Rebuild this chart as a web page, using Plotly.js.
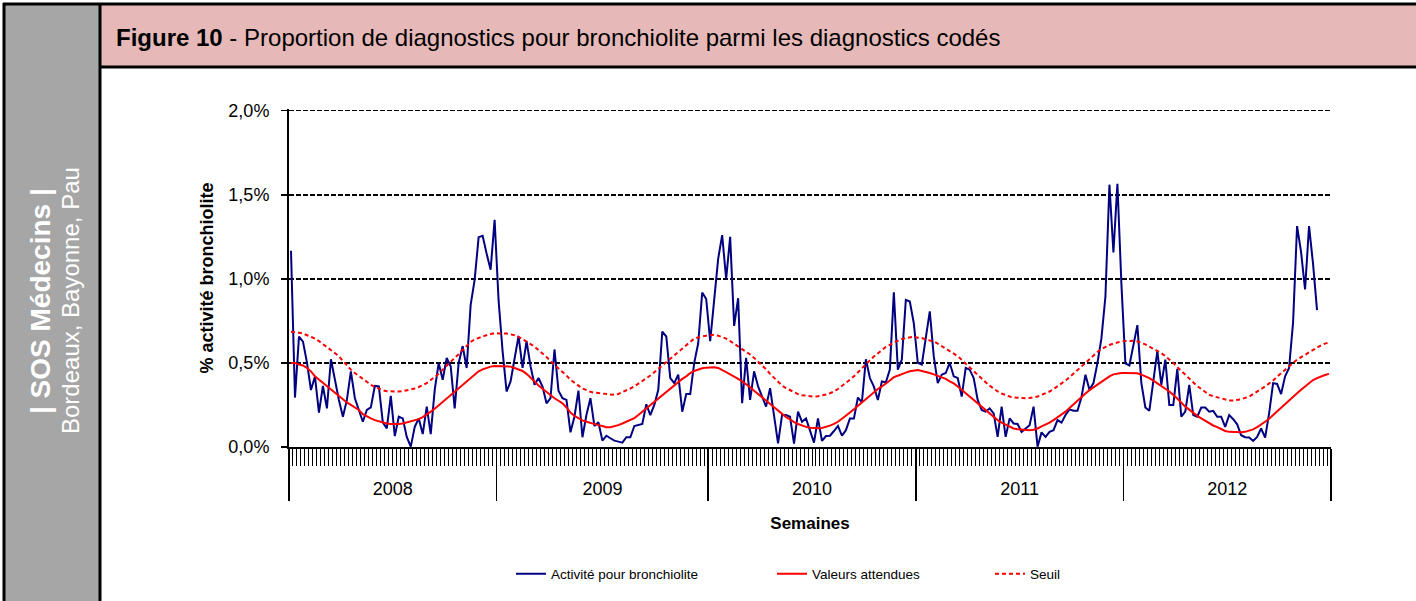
<!DOCTYPE html>
<html>
<head>
<meta charset="utf-8">
<script src="https://cdn.plot.ly/plotly-3.0.1.min.js"></script>
<style>
html,body{margin:0;padding:0;background:#fff;}
#chart{width:1416px;height:601px;}
</style>
</head>
<body>
<div id="chart"></div>
<script>
// ---- Categories / tick labels ----
const years = ['2008', '2009', '2010', '2011', '2012'];
const weeksPerYear = [52, 53, 52, 52, 52];
const yTickVals = [0, 0.5, 1, 1.5, 2];
const yTickText = ['0,0%', '0,5%', '1,0%', '1,5%', '2,0%'];

// ---- Activité pour bronchiolite (% of coded diagnostics), weekly ----
const act2008 = [1.167, 0.294, 0.657, 0.627, 0.502, 0.339, 0.419, 0.204, 0.363, 0.230,
  0.522, 0.40, 0.28, 0.18, 0.28, 0.45, 0.29, 0.22, 0.15, 0.22,
  0.236, 0.363, 0.36, 0.147, 0.111, 0.304, 0.065, 0.18, 0.17, 0.06,
  0.002, 0.12, 0.17, 0.077, 0.24, 0.077, 0.34, 0.50, 0.40, 0.53,
  0.48, 0.23, 0.50, 0.60, 0.47, 0.845, 0.994, 1.248, 1.256, 1.15,
  1.054, 1.351];
const act2009 = [0.87, 0.57, 0.33, 0.39, 0.52, 0.66, 0.47, 0.63, 0.48, 0.37,
  0.41, 0.36, 0.26, 0.29, 0.58, 0.335, 0.29, 0.28, 0.087, 0.18,
  0.335, 0.058, 0.19, 0.29, 0.125, 0.147, 0.038, 0.067, 0.052, 0.038,
  0.032, 0.026, 0.058, 0.058, 0.125, 0.129, 0.137, 0.254, 0.19, 0.25,
  0.34, 0.686, 0.657, 0.41, 0.38, 0.43, 0.21, 0.315, 0.315, 0.50,
  0.617, 0.919, 0.88];
const act2010 = [0.63, 0.90, 1.12, 1.26, 1.0, 1.25, 0.72, 0.885, 0.26, 0.53,
  0.28, 0.45, 0.36, 0.30, 0.24, 0.35, 0.19, 0.022, 0.19, 0.19,
  0.18, 0.02, 0.21, 0.15, 0.17, 0.10, 0.026, 0.17, 0.036, 0.065,
  0.067, 0.095, 0.125, 0.067, 0.10, 0.17, 0.17, 0.294, 0.266, 0.522,
  0.41, 0.359, 0.28, 0.39, 0.385, 0.46, 0.92, 0.46, 0.52, 0.875,
  0.865, 0.736];
const act2011 = [0.50, 0.49, 0.66, 0.806, 0.54, 0.38, 0.43, 0.44, 0.50, 0.42,
  0.41, 0.30, 0.47, 0.46, 0.41, 0.28, 0.22, 0.21, 0.23, 0.20,
  0.06, 0.24, 0.06, 0.17, 0.14, 0.137, 0.09, 0.11, 0.13, 0.24,
  0.002, 0.087, 0.06, 0.09, 0.10, 0.16, 0.145, 0.19, 0.224, 0.216,
  0.216, 0.296, 0.43, 0.34, 0.38, 0.50, 0.647, 0.895, 1.56, 1.157,
  1.565, 0.97];
const act2012 = [0.497, 0.485, 0.60, 0.725, 0.38, 0.235, 0.215, 0.40, 0.57, 0.37,
  0.52, 0.25, 0.25, 0.465, 0.18, 0.21, 0.37, 0.19, 0.18, 0.235,
  0.235, 0.21, 0.215, 0.18, 0.18, 0.12, 0.19, 0.165, 0.135, 0.07,
  0.058, 0.056, 0.036, 0.06, 0.11, 0.056, 0.20, 0.38, 0.375, 0.315,
  0.42, 0.47, 0.74, 1.314, 1.16, 0.937, 1.314, 1.09, 0.814];

// ---- Valeurs attendues ----
const att2008 = [0.50, 0.50, 0.49, 0.485, 0.47, 0.45, 0.42, 0.40, 0.38, 0.36,
  0.34, 0.32, 0.30, 0.285, 0.265, 0.25, 0.235, 0.22, 0.195, 0.18,
  0.17, 0.16, 0.152, 0.146, 0.14, 0.137, 0.136, 0.137, 0.14, 0.147,
  0.152, 0.157, 0.166, 0.178, 0.192, 0.21, 0.228, 0.248, 0.268, 0.29,
  0.31, 0.33, 0.35, 0.37, 0.392, 0.41, 0.43, 0.45, 0.462, 0.472,
  0.478, 0.482];
const att2009 = [0.482, 0.482, 0.48, 0.478, 0.47, 0.462, 0.452, 0.435, 0.415, 0.39,
  0.365, 0.345, 0.325, 0.305, 0.29, 0.275, 0.26, 0.235, 0.205, 0.185,
  0.17, 0.158, 0.15, 0.142, 0.135, 0.13, 0.125, 0.118, 0.117, 0.122,
  0.13, 0.14, 0.15, 0.16, 0.172, 0.19, 0.21, 0.23, 0.245, 0.265,
  0.29, 0.305, 0.325, 0.345, 0.37, 0.39, 0.405, 0.42, 0.44, 0.452,
  0.462, 0.468, 0.472];
const att2010 = [0.474, 0.474, 0.47, 0.455, 0.445, 0.432, 0.42, 0.405, 0.39, 0.375,
  0.355, 0.335, 0.315, 0.295, 0.275, 0.255, 0.235, 0.215, 0.195, 0.178,
  0.165, 0.148, 0.137, 0.128, 0.12, 0.115, 0.112, 0.111, 0.113, 0.118,
  0.127, 0.137, 0.15, 0.168, 0.185, 0.205, 0.225, 0.245, 0.27, 0.29,
  0.31, 0.328, 0.345, 0.36, 0.375, 0.395, 0.415, 0.425, 0.435, 0.442,
  0.45, 0.456];
const att2011 = [0.458, 0.452, 0.447, 0.44, 0.432, 0.424, 0.414, 0.405, 0.39, 0.378,
  0.36, 0.34, 0.32, 0.30, 0.28, 0.258, 0.235, 0.215, 0.195, 0.175,
  0.16, 0.145, 0.132, 0.12, 0.11, 0.105, 0.102, 0.10, 0.10, 0.103,
  0.11, 0.122, 0.132, 0.145, 0.16, 0.175, 0.192, 0.21, 0.232, 0.255,
  0.275, 0.298, 0.318, 0.338, 0.355, 0.372, 0.39, 0.405, 0.42, 0.432,
  0.438, 0.44];
const att2012 = [0.44, 0.44, 0.44, 0.438, 0.43, 0.42, 0.41, 0.395, 0.38, 0.365,
  0.35, 0.33, 0.31, 0.29, 0.265, 0.24, 0.22, 0.20, 0.185, 0.17,
  0.155, 0.14, 0.128, 0.118, 0.105, 0.095, 0.09, 0.088, 0.087, 0.088,
  0.09, 0.097, 0.105, 0.118, 0.132, 0.15, 0.168, 0.19, 0.21, 0.235,
  0.26, 0.28, 0.30, 0.32, 0.34, 0.36, 0.38, 0.398, 0.41, 0.42,
  0.428, 0.435];

// ---- Seuil ----
const seuil2008 = [0.686, 0.684, 0.68, 0.675, 0.665, 0.657, 0.645, 0.63, 0.612, 0.595,
  0.58, 0.56, 0.54, 0.512, 0.485, 0.46, 0.44, 0.422, 0.405, 0.385,
  0.37, 0.358, 0.345, 0.337, 0.332, 0.33, 0.33, 0.33, 0.332, 0.336,
  0.34, 0.348, 0.357, 0.367, 0.38, 0.398, 0.415, 0.435, 0.46, 0.485,
  0.508, 0.53, 0.552, 0.575, 0.6, 0.625, 0.64, 0.65, 0.657, 0.665,
  0.672, 0.677];
const seuil2009 = [0.675, 0.677, 0.675, 0.67, 0.665, 0.655, 0.642, 0.628, 0.612, 0.597,
  0.578, 0.558, 0.535, 0.51, 0.49, 0.467, 0.445, 0.425, 0.40, 0.38,
  0.365, 0.348, 0.337, 0.328, 0.323, 0.32, 0.317, 0.315, 0.312, 0.31,
  0.315, 0.325, 0.335, 0.348, 0.36, 0.375, 0.39, 0.405, 0.425, 0.445,
  0.465, 0.49, 0.51, 0.53, 0.55, 0.57, 0.59, 0.607, 0.625, 0.645,
  0.652, 0.658, 0.662];
const seuil2010 = [0.665, 0.667, 0.662, 0.655, 0.645, 0.63, 0.615, 0.60, 0.585, 0.57,
  0.55, 0.53, 0.508, 0.485, 0.462, 0.435, 0.41, 0.39, 0.365, 0.35,
  0.337, 0.325, 0.315, 0.308, 0.304, 0.302, 0.30, 0.302, 0.306, 0.312,
  0.32, 0.33, 0.345, 0.362, 0.38, 0.40, 0.42, 0.445, 0.47, 0.49,
  0.515, 0.538, 0.558, 0.578, 0.595, 0.608, 0.622, 0.632, 0.642, 0.648,
  0.652, 0.657];
const seuil2011 = [0.65, 0.648, 0.64, 0.635, 0.627, 0.615, 0.60, 0.59, 0.575, 0.56,
  0.54, 0.518, 0.495, 0.472, 0.45, 0.43, 0.405, 0.385, 0.365, 0.345,
  0.33, 0.318, 0.308, 0.30, 0.295, 0.292, 0.29, 0.29, 0.291, 0.294,
  0.30, 0.31, 0.318, 0.33, 0.345, 0.36, 0.378, 0.395, 0.415, 0.435,
  0.455, 0.478, 0.50, 0.522, 0.545, 0.565, 0.582, 0.597, 0.607, 0.615,
  0.622, 0.628];
const seuil2012 = [0.63, 0.633, 0.632, 0.628, 0.62, 0.61, 0.597, 0.585, 0.568, 0.558,
  0.54, 0.522, 0.50, 0.475, 0.452, 0.43, 0.405, 0.385, 0.362, 0.345,
  0.33, 0.31, 0.302, 0.295, 0.29, 0.282, 0.277, 0.276, 0.278, 0.284,
  0.292, 0.30, 0.315, 0.328, 0.345, 0.36, 0.375, 0.395, 0.418, 0.44,
  0.458, 0.478, 0.50, 0.52, 0.535, 0.55, 0.565, 0.58, 0.595, 0.605,
  0.615, 0.622];

const activite = [].concat(act2008, act2009, act2010, act2011, act2012);
const attendues = [].concat(att2008, att2009, att2010, att2011, att2012);
const seuil = [].concat(seuil2008, seuil2009, seuil2010, seuil2011, seuil2012);

// week index (category position) of every point
const idx = n => Array.from({length: n}, (_, i) => i);
const totalWeeks = weeksPerYear.reduce((a, b) => a + b, 0);

// year boundaries and year centres on the week-category axis
const bounds = [-0.5];
weeksPerYear.forEach(n => bounds.push(bounds[bounds.length - 1] + n));
const centers = years.map((_, k) => (bounds[k] + bounds[k + 1]) / 2);

// ---- page geometry (pixels) ----
const W = 1416, H = 601;
const M = {l: 289, r: 85, t: 109, b: 154};
const PW = W - M.l - M.r, PH = H - M.t - M.b;
const px = v => (v - M.l) / PW;
const py = v => (H - M.b - v) / PH;

const FONT = 'Liberation Sans, Arial, Helvetica, sans-serif';

const traces = [
  {type: 'scatter', mode: 'lines', name: 'Activité pour bronchiolite',
   x: idx(activite.length), y: activite,
   line: {color: '#000080', width: 2}, legend: 'legend', hoverinfo: 'skip'},
  {type: 'scatter', mode: 'lines', name: 'Valeurs attendues',
   x: idx(attendues.length), y: attendues,
   line: {color: '#FF0000', width: 2}, legend: 'legend2', hoverinfo: 'skip'},
  {type: 'scatter', mode: 'lines', name: 'Seuil',
   x: idx(seuil.length), y: seuil, xaxis: 'x2',
   line: {color: '#FF0000', width: 2, dash: '4px,3px'}, legend: 'legend3', hoverinfo: 'skip'}
];

function rect(x0, y0, x1, y1, fill) {
  return {type: 'rect', xref: 'paper', yref: 'paper', layer: 'below',
    x0: px(x0), x1: px(x1), y0: py(y0), y1: py(y1),
    fillcolor: fill, line: {width: 0}};
}
function hline(x0, x1, y, w) {
  return {type: 'line', xref: 'paper', yref: 'paper', layer: 'above',
    x0: px(x0), x1: px(x1), y0: py(y), y1: py(y), line: {color: '#000', width: w}};
}
function vline(x, y0, y1, w) {
  return {type: 'line', xref: 'paper', yref: 'paper', layer: 'above',
    x0: px(x), x1: px(x), y0: py(y0), y1: py(y1), line: {color: '#000', width: w}};
}

const legendBase = {orientation: 'h', xanchor: 'left', yanchor: 'middle',
  y: py(574), font: {size: 13.5, color: '#000', family: FONT},
  bgcolor: 'rgba(0,0,0,0)', borderwidth: 0};

const layout = {
  width: W, height: H,
  margin: {l: M.l, r: M.r, t: M.t, b: M.b, pad: 0},
  paper_bgcolor: '#ffffff', plot_bgcolor: 'rgba(0,0,0,0)',
  font: {family: FONT, color: '#000', size: 18},
  separators: ', ',
  showlegend: true,
  xaxis: {
    range: [-0.5, totalWeeks - 0.5], autorange: false,
    tickmode: 'array', tickvals: bounds, showticklabels: false,
    ticks: 'outside', ticklen: 52, tickwidth: 1.5, tickcolor: '#000',
    minor: {tickmode: 'linear', tick0: -0.5, dtick: 1, ticks: 'outside',
            ticklen: 17, tickwidth: 1, tickcolor: '#000', showgrid: false},
    showline: true, linecolor: '#000', linewidth: 2,
    showgrid: false, zeroline: false, automargin: false, fixedrange: true,
    title: {text: '<b>Semaines</b>', font: {size: 17, family: FONT}, standoff: 17}
  },
  xaxis2: {
    overlaying: 'x', anchor: 'y', side: 'bottom',
    range: [-0.5, totalWeeks - 0.5], autorange: false,
    tickmode: 'array', tickvals: centers, ticktext: years,
    ticks: '', showline: false, showgrid: false, zeroline: false,
    tickfont: {size: 18, family: FONT}, ticklabelstandoff: 29,
    automargin: false, fixedrange: true
  },
  yaxis: {
    range: [0, 2.01], autorange: false,
    tickmode: 'array', tickvals: yTickVals, ticktext: yTickText,
    ticks: 'outside', ticklen: 6, tickwidth: 1.5, tickcolor: '#000',
    showline: true, linecolor: '#000', linewidth: 2,
    showgrid: true, gridcolor: '#000', gridwidth: 1.6, griddash: '5px,2px',
    zeroline: false, tickfont: {size: 18, family: FONT}, ticklabelstandoff: 8,
    automargin: false, fixedrange: true,
    title: {text: '<b>% activité bronchiolite</b>', font: {size: 18, family: FONT}, standoff: 10}
  },
  legend: Object.assign({}, legendBase, {x: px(511)}),
  legend2: Object.assign({}, legendBase, {x: px(772)}),
  legend3: Object.assign({}, legendBase, {x: px(990)}),
  shapes: [
    rect(100, 4, 1416, 67, '#E6B9B8'),
    rect(4, 4, 100, 601, '#A6A6A6'),
    hline(3, 1416, 4, 3),
    hline(100, 1416, 67, 3),
    vline(4, 3, 601, 3),
    vline(100, 3, 601, 3)
  ],
  annotations: [
    {xref: 'paper', yref: 'paper', x: px(114), y: py(37), xanchor: 'left', yanchor: 'middle',
     showarrow: false, font: {size: 24, color: '#000', family: FONT},
     text: '<b>Figure 10</b> - Proportion de diagnostics pour bronchiolite parmi les diagnostics codés'},
    {xref: 'paper', yref: 'paper', x: px(40), y: py(301), xanchor: 'center', yanchor: 'middle',
     textangle: -90, showarrow: false, font: {size: 28, color: '#ffffff', family: FONT},
     text: '<b>| SOS Médecins |</b>'},
    {xref: 'paper', yref: 'paper', x: px(70), y: py(301), xanchor: 'center', yanchor: 'middle',
     textangle: -90, showarrow: false, font: {size: 24, color: '#ffffff', family: FONT},
     text: 'Bordeaux, Bayonne, Pau'}
  ]
};

Plotly.newPlot('chart', traces, layout, {displayModeBar: false, staticPlot: true});
</script>
</body>
</html>
